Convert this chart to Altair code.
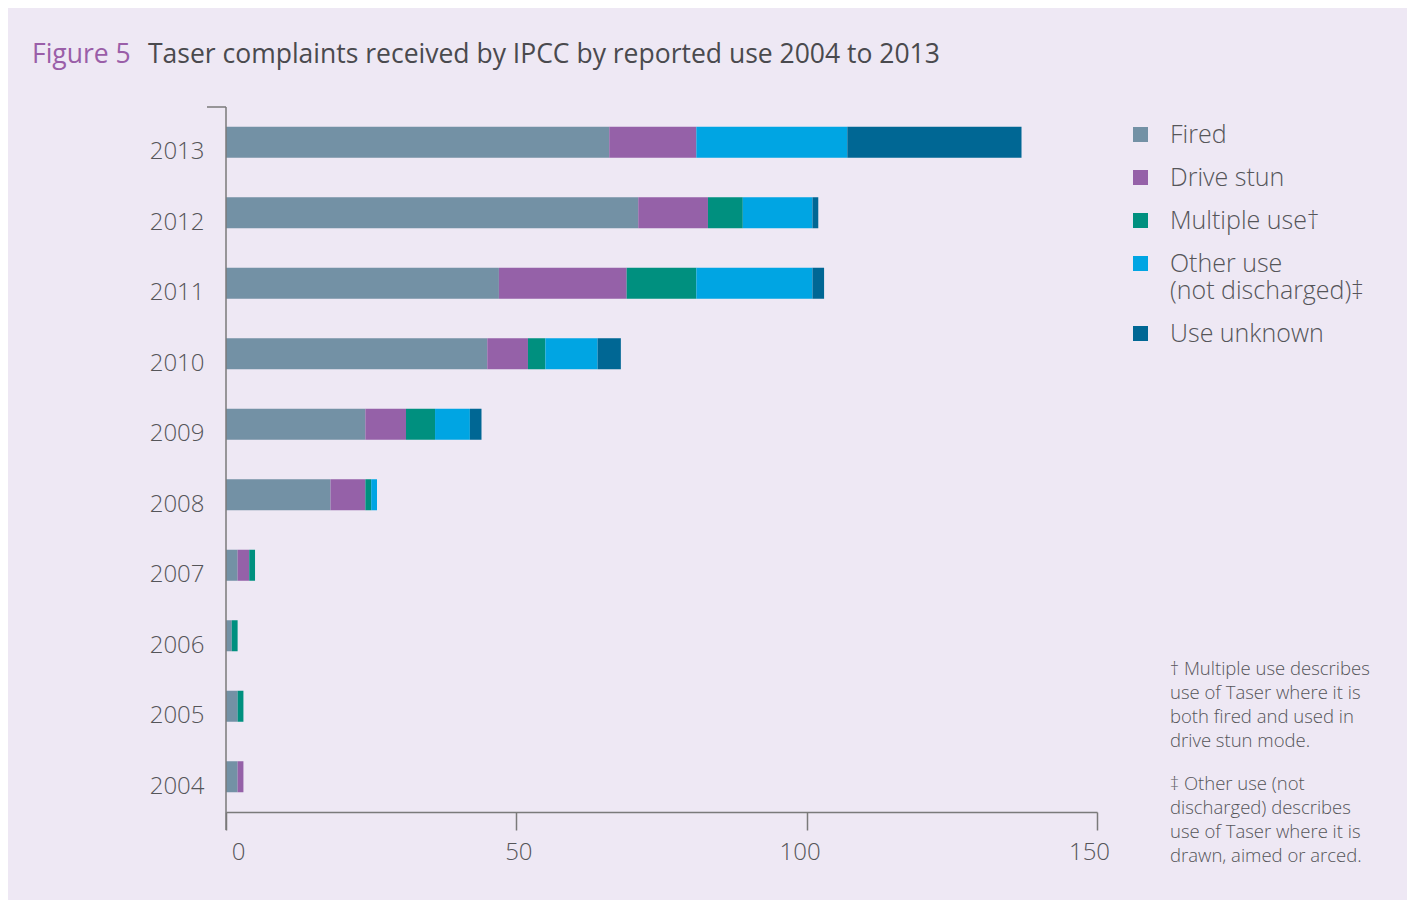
import altair as alt
import pandas as pd

years = ["2013", "2012", "2011", "2010", "2009", "2008", "2007", "2006", "2005", "2004"]
series = ["Fired", "Drive stun", "Multiple use†", "Other use (not discharged)‡", "Use unknown"]
colors = ["#7391A5", "#9561A8", "#00907F", "#00A5E3", "#006794"]

fired = [66, 71, 47, 45, 24, 18, 2, 1, 2, 2]
drive_stun = [15, 12, 22, 7, 7, 6, 2, 0, 0, 1]
multiple_use = [0, 6, 12, 3, 5, 1, 1, 1, 1, 0]
other_use = [26, 12, 20, 9, 6, 1, 0, 0, 0, 0]
use_unknown = [30, 1, 2, 4, 2, 0, 0, 0, 0, 0]

x_ticks = [0, 50, 100, 150]

title_fig = "Figure 5"
title_text = "Taser complaints received by IPCC by reported use 2004 to 2013"
note1 = ["† Multiple use describes", "use of Taser where it is", "both fired and used in", "drive stun mode."]
note2 = ["‡ Other use (not", "discharged) describes", "use of Taser where it is", "drawn, aimed or arced."]

FONT = "Open Sans"
TXT = "#555559"
AX = "#7a7a7a"
BG = "#EEE8F4"

rows = []
for s_i, (name, vals) in enumerate(zip(series, [fired, drive_stun, multiple_use, other_use, use_unknown])):
    for y, v in zip(years, vals):
        rows.append({"year": y, "series": name, "value": v, "idx": s_i})
df = pd.DataFrame(rows)

W, H = 871, 705

x_label_offset = {
    "condition": [
        {"test": "datum.value == 0", "value": 12},
        {"test": "datum.value == 100", "value": -7},
        {"test": "datum.value == 150", "value": -8},
    ],
    "value": 2,
}

bars = alt.Chart(df).mark_bar().encode(
    x=alt.X("value:Q", stack="zero",
            scale=alt.Scale(domain=[0, 150], nice=False),
            axis=alt.Axis(values=x_ticks, title=None, grid=False, tickSize=18,
                          tickColor=AX, domainColor=AX, domainWidth=1.5, tickWidth=1.5,
                          labelFontSize=24, labelColor=TXT, labelFont=FONT,
                          labelPadding=10, labelFontWeight=300, labelFlush=False,
                          labelOffset=x_label_offset)),
    y=alt.Y("year:N", sort=years,
            scale=alt.Scale(paddingInner=0.56, paddingOuter=0.28),
            axis=alt.Axis(title=None, domain=False, ticks=False, labelFontSize=24,
                          labelColor=TXT, labelFont=FONT, labelPadding=22,
                          labelOffset=10, labelFontWeight=300)),
    color=alt.Color("series:N", sort=series,
                    scale=alt.Scale(domain=series, range=colors),
                    legend=alt.Legend(title=None, orient="none", legendX=902, legendY=15,
                                      symbolType="square", symbolSize=225,
                                      symbolStrokeWidth=0, labelFontSize=25,
                                      labelFont=FONT, labelColor=TXT, labelOffset=17,
                                      rowPadding=17, labelLimit=400, labelFontWeight=300,
                                      labelExpr="datum.label == 'Other use (not discharged)‡' ? ['Other use', '(not discharged)‡'] : datum.label")),
    order=alt.Order("idx:Q"),
)

one = alt.Data(values=[{"a": 1}])

yaxis_line = alt.Chart(one).mark_rule(color=AX, strokeWidth=1.5).encode(
    x=alt.value(0), y=alt.value(0), y2=alt.value(H + 18))
yaxis_top = alt.Chart(one).mark_rule(color=AX, strokeWidth=1.5).encode(
    x=alt.value(-19), x2=alt.value(0), y=alt.value(0))

t1 = alt.Chart(one).mark_text(align="left", baseline="middle", fontSize=26.5, font=FONT,
                              color="#9A5EA8").encode(
    x=alt.value(-194), y=alt.value(-52), text=alt.value(title_fig))
t2 = alt.Chart(one).mark_text(align="left", baseline="middle", fontSize=26.5, font=FONT,
                              color="#4a4a4e").encode(
    x=alt.value(-78), y=alt.value(-52), text=alt.value(title_text))

n1 = alt.Chart(one).mark_text(align="left", baseline="top", fontSize=18.5, font=FONT,
                              color=TXT, lineHeight=24, fontWeight=300).encode(
    x=alt.value(944), y=alt.value(553), text=alt.value(note1))
n2 = alt.Chart(one).mark_text(align="left", baseline="top", fontSize=18.5, font=FONT,
                              color=TXT, lineHeight=24, fontWeight=300).encode(
    x=alt.value(944), y=alt.value(668), text=alt.value(note2))

chart = alt.layer(bars, yaxis_line, yaxis_top, t1, t2, n1, n2).properties(
    width=W, height=H,
    background=BG,
    autosize=alt.AutoSizeParams(type="none"),
    padding={"left": 218, "top": 99, "right": 310, "bottom": 88},
).configure(style={"guide-label": {"lineHeight": 27}}).configure_view(stroke=None)

chart.save("out.html", embed_options={"renderer": "svg", "actions": False})
